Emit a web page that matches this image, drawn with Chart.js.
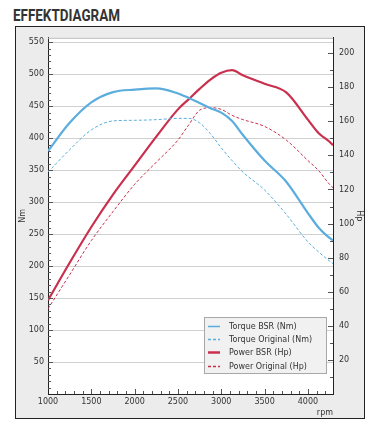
<!DOCTYPE html>
<html>
<head>
<meta charset="utf-8">
<script src="https://cdn.jsdelivr.net/npm/chart.js@4/dist/chart.umd.min.js"></script>
<style>
  html, body { margin: 0; padding: 0; background: #fff; }
  #title {
    position: absolute; left: 13px; top: 6px;
    font-family: "Liberation Sans Narrow", Roboto, sans-serif;
    font-weight: bold; font-size: 16px; color: #333;
    transform-origin: left top;
  }
  #panel {
    position: absolute; left: 15px; top: 26px; width: 350px; height: 393px;
    box-sizing: border-box; border: 1px solid #222; background: #ececec;
  }
  #c { display: block; }
</style>
</head>
<body>
<div id="title">EFFEKTDIAGRAM</div>
<div id="panel"><canvas id="c" width="348" height="391"></canvas></div>
<script>
// engine speed (rpm)
var rpm = [1000, 1250, 1500, 1750, 2000, 2250, 2500, 2625, 2750, 2875, 3000, 3125, 3250, 3500, 3750, 4000, 4125, 4250, 4290];
// torque, Nm
var torqueBsr = [380, 424, 456, 472, 476, 478, 470, 463, 455, 447, 440, 427, 405, 365, 332, 283, 260, 244, 240];
var torqueOrig = [347, 382, 413, 427, 428, 429, 431, 431, 424, 407, 385, 365, 347, 319, 281, 238, 222, 208, 204];
// power, Hp
var powerBsr = [55, 77, 98, 117, 134, 151, 167, 173, 179, 184.5, 188.5, 190, 187, 182, 177, 161, 153, 148, 146];
var powerOrig = [50, 70, 90, 107, 123, 136, 149, 158, 166.5, 168, 167, 163.5, 161, 157, 149, 137, 131, 123, 121];

// tick labels
var rpmTicks = [1000, 1500, 2000, 2500, 3000, 3500, 4000];
var nmTicks = [50, 100, 150, 200, 250, 300, 350, 400, 450, 500, 550];
var hpTicks = [20, 40, 60, 80, 100, 120, 140, 160, 180, 200];

var labels = ['Torque BSR (Nm)', 'Torque Original (Nm)', 'Power BSR (Hp)', 'Power Original (Hp)'];

var blue = '#5aaddd';
var red = '#c8304e';
var font = 'DejaVu Sans';

function pts(ys) {
    return rpm.map(function (r, i) { return { x: r, y: ys[i] }; });
}
function fixed(list) {
    return function (s) { s.ticks = list.map(function (v) { return { value: v }; }); };
}

// fit the title to the reference width
var t = document.getElementById('title');
t.style.transform = 'scaleX(' + (107 / t.getBoundingClientRect().width) + ')';

var minorTicks = {
    id: 'minorTicks',
    afterDraw: function (chart) {
        var ctx = chart.ctx, a = chart.chartArea, s = chart.scales;
        ctx.save();
        ctx.strokeStyle = '#555';
        ctx.lineWidth = 1;
        ctx.beginPath();
        var v, p;
        for (v = 10; v <= 550; v += 10) {
            p = Math.round(s.y.getPixelForValue(v)) + 0.5;
            ctx.moveTo(a.left, p); ctx.lineTo(a.left + (v % 50 ? 3 : 5), p);
        }
        for (v = 10; v <= 200; v += 10) {
            p = Math.round(s.y1.getPixelForValue(v)) + 0.5;
            ctx.moveTo(a.right, p); ctx.lineTo(a.right - (v % 20 ? 3 : 5), p);
        }
        for (v = 1100; v <= 4200; v += 100) {
            p = Math.round(s.x.getPixelForValue(v)) + 0.5;
            ctx.moveTo(p, a.bottom); ctx.lineTo(p, a.bottom - (v % 500 ? 3 : 5));
        }
        ctx.stroke();
        // light top edge of plot
        ctx.strokeStyle = '#bbb';
        ctx.beginPath();
        ctx.moveTo(a.left, a.top + 0.5); ctx.lineTo(a.right, a.top + 0.5);
        ctx.stroke();
        ctx.restore();
    }
};

var plotBg = {
    id: 'plotBg',
    beforeDraw: function (chart) {
        var a = chart.chartArea;
        chart.ctx.save();
        chart.ctx.fillStyle = '#fff';
        chart.ctx.fillRect(a.left, a.top, a.right - a.left, a.bottom - a.top);
        chart.ctx.restore();
    }
};

var boxLegend = {
    id: 'boxLegend',
    afterDraw: function (chart) {
        var ctx = chart.ctx, a = chart.chartArea;
        var w = 122, h = 56;
        var x0 = a.right - 7 - w, y0 = a.bottom - 21 - h;
        ctx.save();
        ctx.fillStyle = '#f1f1f1';
        ctx.fillRect(x0, y0, w, h);
        ctx.strokeStyle = '#a8a8a8';
        ctx.lineWidth = 1;
        ctx.strokeRect(x0 + 0.5, y0 + 0.5, w, h);
        ctx.font = '8px ' + font;
        ctx.textBaseline = 'middle';
        chart.data.datasets.forEach(function (ds, i) {
            var yy = Math.round(y0 + 8.5 + i * 13.4) + 0.5;
            ctx.strokeStyle = ds.borderColor;
            ctx.lineWidth = ds.borderDash.length ? 1.5 : (i == 2 ? 2.5 : 1.5);
            ctx.setLineDash(ds.borderDash);
            ctx.beginPath();
            ctx.moveTo(x0 + 4, yy); ctx.lineTo(x0 + 16, yy);
            ctx.stroke();
            ctx.setLineDash([]);
            ctx.fillStyle = '#333';
            ctx.fillText(ds.label, x0 + 25, yy);
        });
        ctx.restore();
    }
};

var ctx = document.getElementById('c').getContext('2d');
var chart = new Chart(ctx, {
    type: 'line',
    data: {
        datasets: [{
            label: labels[0], data: pts(torqueBsr), yAxisID: 'y',
            borderColor: blue, borderWidth: 2.2, borderDash: []
        }, {
            label: labels[1], data: pts(torqueOrig), yAxisID: 'y',
            borderColor: blue, borderWidth: 1, borderDash: [3, 2]
        }, {
            label: labels[2], data: pts(powerBsr), yAxisID: 'y1',
            borderColor: red, borderWidth: 2.2, borderDash: []
        }, {
            label: labels[3], data: pts(powerOrig), yAxisID: 'y1',
            borderColor: red, borderWidth: 1, borderDash: [3, 2]
        }]
    },
    options: {
        responsive: false,
        animation: false,
        events: [],
        layout: { padding: { top: 1, left: 0, right: 0, bottom: 0 } },
        elements: {
            point: { radius: 0 },
            line: { cubicInterpolationMode: 'monotone', fill: false }
        },
        plugins: { legend: { display: false }, tooltip: { enabled: false } },
        scales: {
            x: {
                type: 'linear', min: 1000, max: 4290,
                afterFit: function (s) { s.height = 24; },
                afterBuildTicks: fixed(rpmTicks),
                ticks: { autoSkip: false, padding: 3, color: '#333', font: { family: font, size: 8 }, maxRotation: 0,
                         callback: function (v) { return String(v); } },
                grid: { display: false, drawTicks: false },
                border: { display: true, color: '#222' },
                title: { display: true, text: 'rpm', align: 'end', color: '#333', font: { family: font, size: 8 }, padding: 0 }
            },
            y: {
                position: 'left', min: 0, max: 557,
                afterFit: function (s) { s.width = 32; },
                afterBuildTicks: fixed(nmTicks),
                ticks: { autoSkip: false, padding: 4, color: '#333', font: { family: font, size: 8 },
                         callback: function (v) { return String(v); } },
                grid: { color: '#d0d0d0', drawTicks: false },
                border: { display: true, color: '#222' },
                title: { display: true, text: 'Nm', color: '#333', font: { family: font, size: 8 }, padding: { top: 2, bottom: 0 } }
            },
            y1: {
                position: 'right', min: 0, max: 209,
                afterFit: function (s) { s.width = 31; },
                afterBuildTicks: fixed(hpTicks),
                ticks: { autoSkip: false, padding: 6, color: '#333', font: { family: font, size: 8 },
                         callback: function (v) { return String(v); } },
                grid: { display: false, drawTicks: false },
                border: { display: true, color: '#222' },
                title: { display: true, text: 'Hp', color: '#333', font: { family: font, size: 8 }, padding: { top: 0, bottom: 2 } }
            }
        }
    },
    plugins: [plotBg, minorTicks, boxLegend]
});
</script>
</body>
</html>
